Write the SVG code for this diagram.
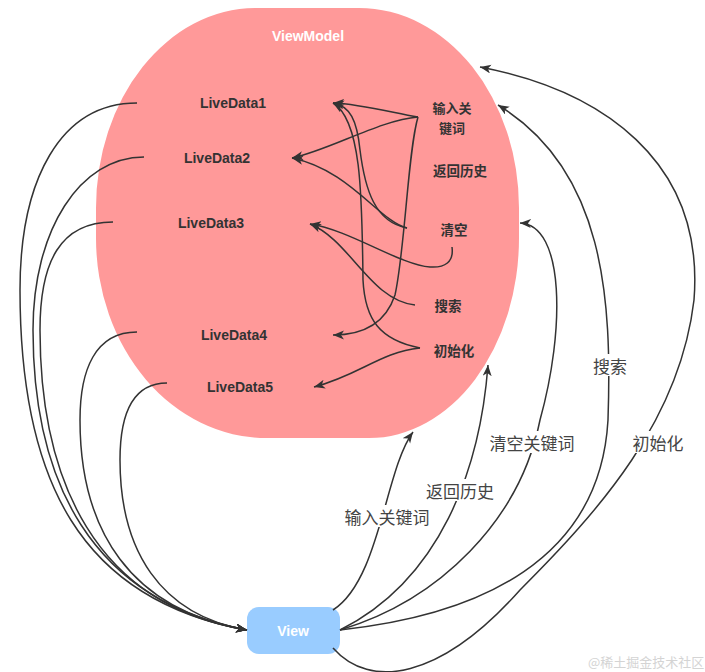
<svg xmlns="http://www.w3.org/2000/svg" width="705" height="672" viewBox="0 0 705 672">
<defs>
<marker id="arr" markerUnits="userSpaceOnUse" markerWidth="12" markerHeight="10" refX="11" refY="4.5" orient="auto">
<path d="M0,0 L11,4.5 L0,9 L3,4.5 Z" fill="#333"/>
</marker>
<style>
.e{fill:none;stroke:#333;stroke-width:1.5;marker-end:url(#arr)}
.ld{font-family:"Liberation Sans","Noto Sans CJK SC",sans-serif;font-weight:bold;font-size:14px;fill:#333;text-anchor:middle;dominant-baseline:central}
.cn{font-family:"Noto Sans CJK SC",sans-serif;font-weight:bold;font-size:13.5px;fill:#333;text-anchor:middle;dominant-baseline:central}
.el{font-family:"Noto Sans CJK SC",sans-serif;font-size:17px;fill:#444;text-anchor:middle;dominant-baseline:central}
.bg{fill:#fff}
</style>
</defs>
<rect width="705" height="672" fill="#fff"/>

<g id="viewmodel">
<path d="M255,8 H359 A160,200 0 0 1 519,208 V238 A150,200 0 0 1 369,438 H266 A170,200 0 0 1 96,238 V208 A160,200 0 0 1 255,8 Z" fill="#FF9999"/>
<text x="308" y="36" class="ld" style="fill:#fff">ViewModel</text>
</g>
<g id="livedata1"><text x="233" y="103" class="ld">LiveData1</text></g>
<g id="livedata2"><text x="217" y="158" class="ld">LiveData2</text></g>
<g id="livedata3"><text x="211" y="223" class="ld">LiveData3</text></g>
<g id="livedata4"><text x="234" y="335" class="ld">LiveData4</text></g>
<g id="livedata5"><text x="240" y="387" class="ld">LiveData5</text></g>
<g id="act-input"><text x="452" y="107" class="cn" style="font-size:13px">输入关</text><text x="452" y="127" class="cn" style="font-size:13px">键词</text></g>
<g id="act-history"><text x="460" y="170" class="cn">返回历史</text></g>
<g id="act-clear"><text x="454" y="229" class="cn">清空</text></g>
<g id="act-search"><text x="448" y="305" class="cn">搜索</text></g>
<g id="act-init"><text x="454" y="350" class="cn">初始化</text></g>

<g id="view">
<rect x="247" y="607" width="93" height="47" rx="12" ry="12" fill="#99CCFF"/>
<text x="293" y="631" class="ld" style="fill:#fff">View</text>
</g>

<g id="connectors">
<path class="e" d="M137,103 C60,103 20,180 20,290 C20,480 80,600 247,630"/>
<path class="e" d="M144,157 C80,157 33,230 33,330 C33,480 90,600 247,630"/>
<path class="e" d="M113,222 C60,222 40,262 40,330 C40,480 95,605 247,630"/>
<path class="e" d="M137,332 C95,332 80,370 80,420 C80,530 130,610 247,630"/>
<path class="e" d="M167,383 C130,383 120,420 120,460 C120,550 160,615 247,630"/>
<path class="e" d="M418,117 C390,112 360,104 333,103"/>
<path class="e" d="M418,117 C380,120 330,150 292,158"/>
<path class="e" d="M418,117 C408,150 405,250 395,295 C385,325 360,335 333,335"/>
<path class="e" d="M407,228 C375,222 365,190 360,150 C357,120 350,106 333,103"/>
<path class="e" d="M407,228 C380,222 350,170 292,158"/>
<path class="e" d="M452,247 C454,262 445,268 430,267 C400,265 350,230 310,224"/>
<path class="e" d="M415,305 C370,300 350,240 310,224"/>
<path class="e" d="M420,348 C380,340 365,320 363,280 C362,200 362,120 333,103"/>
<path class="e" d="M420,348 C380,352 360,375 314,387"/>
<path class="e" d="M333,610 C380,580 385,470 413,432"/>
<path class="e" d="M340,630 C440,580 480,470 488,365"/>
<path class="e" d="M340,630 C440,600 520,520 540,420 C565,330 565,225 520,223"/>
<path class="e" d="M340,630 C480,615 600,560 608,420 C612,300 605,170 498,105"/>
<path class="e" d="M333,648 C370,690 440,680 520,590 C600,510 680,420 694,300 C705,160 600,90 480,67"/>
</g>

<g id="edge-labels">
<rect class="bg" x="344" y="505" width="86" height="22"/><text x="387" y="516" class="el">输入关键词</text>
<rect class="bg" x="422" y="479" width="76" height="22"/><text x="460" y="490" class="el">返回历史</text>
<rect class="bg" x="486" y="431" width="92" height="22"/><text x="532" y="442" class="el">清空关键词</text>
<rect class="bg" x="591" y="354" width="38" height="22"/><text x="610" y="365" class="el">搜索</text>
<rect class="bg" x="632" y="431" width="53" height="22"/><text x="658" y="442" class="el">初始化</text>
</g>
<text x="588" y="667" font-family="Noto Sans CJK SC, sans-serif" font-size="13" fill="#d4d4d4">@稀土掘金技术社区</text>
</svg>
